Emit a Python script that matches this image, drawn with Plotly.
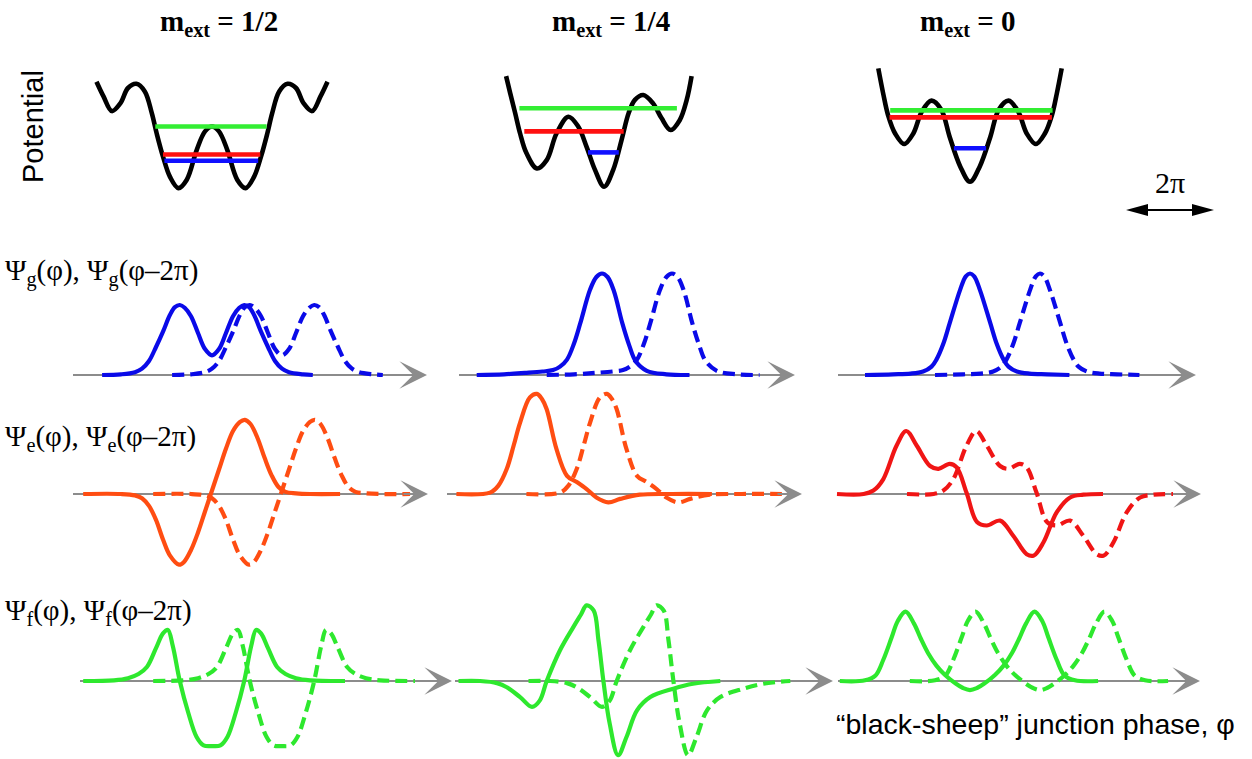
import plotly.graph_objects as go

# ---------------- data ----------------
# phase values are in units of 2*pi (phi / 2pi); amplitudes/potential in arbitrary units
COL_TITLES = ["<b>m<sub>ext</sub> = 1/2</b>", "<b>m<sub>ext</sub> = 1/4</b>", "<b>m<sub>ext</sub> = 0</b>"]
ROW_LABELS = ["Ψ<sub>g</sub>(φ), Ψ<sub>g</sub>(φ–2π)",
              "Ψ<sub>e</sub>(φ), Ψ<sub>e</sub>(φ–2π)",
              "Ψ<sub>f</sub>(φ), Ψ<sub>f</sub>(φ–2π)"]
POTENTIAL_LABEL = "Potential"
XAXIS_LABEL = "“black-sheep” junction phase, φ"
PERIOD_LABEL = "2π"
PERIOD = 1.0  # 2π in units of 2π

# potential curves
P1_PHI = [-1.65, -1.55, -1.43, -1.31, -1.2, -1.08, -0.96, -0.86, -0.79, -0.7, -0.6, -0.48, -0.36, -0.22, -0.1, 0,
          0.1, 0.22, 0.36, 0.48, 0.6, 0.7, 0.79, 0.86, 0.96, 1.08, 1.2, 1.31, 1.43, 1.55, 1.65]
P1_V = [1.69, 1.48, 1.27, 1.38, 1.6, 1.66, 1.55, 1.24, 0.95, 0.62, 0.33, 0.17, 0.29, 0.71, 0.98, 1.05,
        0.98, 0.71, 0.29, 0.17, 0.33, 0.62, 0.95, 1.24, 1.55, 1.66, 1.6, 1.38, 1.27, 1.48, 1.69]
P2_PHI = [-1.37, -1.31, -1.24, -1.17, -1.08, -0.93, -0.79, -0.65, -0.48, -0.34, -0.22, -0.1, 0.03, 0.16, 0.28,
          0.38, 0.47, 0.59, 0.73, 0.85, 0.98, 1.11, 1.21, 1.28]
P2_V = [1.77, 1.52, 1.24, 0.95, 0.67, 0.45, 0.57, 0.95, 1.19, 1.05, 0.76, 0.43, 0.19, 0.43, 0.86,
        1.24, 1.43, 1.5, 1.38, 1.17, 1.0, 1.14, 1.43, 1.77]
P3_PHI = [-1.31, -1.24, -1.17, -1.07, -0.94, -0.81, -0.69, -0.55, -0.41, -0.29, -0.14, 0,
          0.14, 0.29, 0.41, 0.55, 0.69, 0.81, 0.94, 1.07, 1.17, 1.24, 1.31]
P3_V = [1.88, 1.52, 1.21, 0.95, 0.8, 0.95, 1.26, 1.42, 1.29, 0.9, 0.48, 0.26,
        0.48, 0.9, 1.29, 1.42, 1.26, 0.95, 0.8, 0.95, 1.21, 1.52, 1.88]

# energy levels: (energy, left phi, right phi) for g, e, f
LEVELS_1 = {"g": (0.56, -0.68, 0.66), "e": (0.65, -0.70, 0.69), "f": (1.05, -0.81, 0.78)}
LEVELS_2 = {"g": (0.68, -0.20, 0.24), "e": (0.98, -1.11, 0.31), "f": (1.31, -1.18, 1.07)}
LEVELS_3 = {"g": (0.74, -0.23, 0.23), "e": (1.18, -1.15, 1.17), "f": (1.28, -1.14, 1.18)}

# wavefunctions, m_ext = 1/2
G1_PHI = [-1.57, -1.3, -1.1, -1.0, -0.9, -0.8, -0.7, -0.6, -0.53, -0.46, -0.39, -0.3, -0.2, -0.1, 0,
          0.1, 0.2, 0.3, 0.39, 0.46, 0.53, 0.6, 0.7, 0.8, 0.9, 1.0, 1.1, 1.3, 1.44]
G1_AMP = [0, 0.01, 0.04, 0.09, 0.2, 0.4, 0.62, 0.86, 0.97, 1.0, 0.96, 0.84, 0.6, 0.37, 0.28,
          0.37, 0.6, 0.84, 0.96, 1.0, 0.97, 0.86, 0.62, 0.4, 0.2, 0.09, 0.04, 0.01, 0]
E1_PHI = [-1.84, -1.3, -1.1, -1.0, -0.9, -0.8, -0.7, -0.6, -0.47, -0.4, -0.3, -0.2, -0.1, 0,
          0.1, 0.2, 0.3, 0.4, 0.47, 0.55, 0.65, 0.75, 0.85, 0.95, 1.05, 1.2, 1.4, 1.83]
E1_AMP = [0, 0, -0.02, -0.06, -0.17, -0.37, -0.65, -0.88, -1.01, -0.97, -0.8, -0.55, -0.25, 0.05,
          0.35, 0.65, 0.9, 1.03, 1.06, 1.0, 0.8, 0.52, 0.27, 0.1, 0.03, 0.01, 0, 0]
F1_PHI = [-1.84, -1.4, -1.2, -1.05, -0.93, -0.8, -0.7, -0.63, -0.56, -0.46, -0.34, -0.22, -0.12, 0,
          0.12, 0.22, 0.34, 0.46, 0.56, 0.63, 0.7, 0.8, 0.93, 1.05, 1.2, 1.4, 1.9]
F1_AMP = [0, 0.01, 0.04, 0.1, 0.2, 0.47, 0.68, 0.73, 0.5, 0, -0.45, -0.8, -0.92, -0.93,
          -0.92, -0.8, -0.45, 0, 0.5, 0.73, 0.68, 0.47, 0.2, 0.1, 0.04, 0.01, 0]

# wavefunctions, m_ext = 1/4
G2_PHI = [-1.79, -1.4, -1.1, -0.85, -0.7, -0.6, -0.5, -0.4, -0.31, -0.17, -0.08, 0, 0.08, 0.17, 0.29,
          0.39, 0.48, 0.64, 0.92, 1.25]
G2_AMP = [0, 0.01, 0.03, 0.05, 0.07, 0.12, 0.22, 0.45, 0.74, 1.22, 1.4, 1.45, 1.4, 1.2, 0.74,
          0.42, 0.2, 0.06, 0.01, 0]
E2_PHI = [-2.08, -1.6, -1.48, -1.36, -1.26, -1.17, -1.03, -0.93, -0.86, -0.79, -0.65, -0.5, -0.36, -0.22,
          -0.08, 0.09, 0.26, 0.54, 1.0, 1.57]
E2_AMP = [0, 0.02, 0.12, 0.36, 0.7, 1.02, 1.38, 1.43, 1.36, 1.21, 0.64, 0.26, 0.17, 0.07,
          -0.05, -0.12, -0.07, -0.01, 0, 0]
F2_PHI = [-2.05, -1.74, -1.5, -1.36, -1.17, -1.0, -0.89, -0.79, -0.6, -0.41, -0.3, -0.22, -0.12, -0.05,
          0.02, 0.11, 0.23, 0.35, 0.5, 0.69, 1.02, 1.3, 1.69]
F2_AMP = [0, 0, -0.03, -0.09, -0.23, -0.37, -0.28, 0, 0.44, 0.77, 0.95, 1.08, 1.01, 0.58,
          0, -0.61, -1.06, -0.8, -0.42, -0.23, -0.11, -0.04, 0]

# wavefunctions, m_ext = 0
G3_PHI = [-1.5, -1.1, -0.85, -0.67, -0.55, -0.48, -0.38, -0.29, -0.14, -0.06, 0,
          0.06, 0.14, 0.29, 0.38, 0.48, 0.55, 0.67, 0.85, 1.1, 1.42]
G3_AMP = [0, 0.01, 0.02, 0.05, 0.12, 0.22, 0.45, 0.74, 1.22, 1.41, 1.45,
          1.41, 1.22, 0.74, 0.45, 0.22, 0.12, 0.05, 0.02, 0.01, 0]
E3_PHI = [-1.9, -1.52, -1.38, -1.24, -1.05, -0.91, -0.76, -0.57, -0.45, -0.29, -0.19, -0.05,
          0.1, 0.24, 0.43, 0.62, 0.81, 0.91, 1.05, 1.24, 1.43, 1.62, 1.9]
E3_AMP = [0, 0, 0.05, 0.21, 0.69, 0.9, 0.69, 0.4, 0.36, 0.43, 0.38, 0.02,
          -0.4, -0.45, -0.38, -0.6, -0.86, -0.88, -0.69, -0.26, -0.05, -0.01, 0]
F3_PHI = [-1.86, -1.5, -1.35, -1.24, -1.12, -1.03, -0.92, -0.8, -0.7, -0.6, -0.48, -0.36, -0.2, -0.1, 0,
          0.1, 0.2, 0.36, 0.48, 0.6, 0.7, 0.8, 0.92, 1.03, 1.12, 1.24, 1.35, 1.5, 1.83]
F3_AMP = [0, 0.01, 0.08, 0.3, 0.62, 0.86, 0.99, 0.82, 0.6, 0.4, 0.22, 0.09, -0.04, -0.1, -0.13,
          -0.1, -0.04, 0.09, 0.22, 0.4, 0.6, 0.82, 0.99, 0.86, 0.62, 0.3, 0.08, 0.01, 0]

POTENTIALS = [(P1_PHI, P1_V, LEVELS_1), (P2_PHI, P2_V, LEVELS_2), (P3_PHI, P3_V, LEVELS_3)]
WAVES = [  # rows g, e, f ; columns 1/2, 1/4, 0
    [(G1_PHI, G1_AMP), (G2_PHI, G2_AMP), (G3_PHI, G3_AMP)],
    [(E1_PHI, E1_AMP), (E2_PHI, E2_AMP), (E3_PHI, E3_AMP)],
    [(F1_PHI, F1_AMP), (F2_PHI, F2_AMP), (F3_PHI, F3_AMP)],
]

# ---------------- styling / layout ----------------
W, H = 1252, 759
PX = 70.0                      # pixels per unit (2π) on every panel, both directions
COL_X0 = [212, 602, 970]       # pixel position of φ = 0 in each column
COL_SPAN = [(0, 462), (438, 850), (822, 1252)]
ROW_SPAN = [(40, 220), (245, 398), (380, 588), (588, 759)]
ROW_Y0 = [200, 375, 494, 681]  # pixel position of zero level in each row
AXIS_PX = [  # (start, tip) of the grey φ-axis arrows, per wave row / column
    [(73, 427), (459, 795), (838, 1196)],
    [(73, 428), (447, 802), (838, 1201)],
    [(80, 452), (455, 833), (838, 1200)],
]
WAVE_COLORS = [["#0a0ae8"] * 3, ["#ff4d12", "#ff4d12", "#f01515"], ["#2ee82e"] * 3]
LEVEL_COLORS = {"g": "#1010ff", "e": "#ff1010", "f": "#33ee33"}
GREY = "#8c8c8c"
SERIF = "Liberation Serif"
SANS = "Liberation Sans"
POT_WIDTH = 4.6
WAVE_WIDTH = 4.2

fig = go.Figure()
layout_axes = {}
annotations = []
shapes = []


def axes_for(row, col):
    idx = row * 3 + col + 1
    x0 = COL_X0[col]
    xs = COL_SPAN[col]
    ys = ROW_SPAN[row]
    y0 = ROW_Y0[row]
    xname = "xaxis" if idx == 1 else f"xaxis{idx}"
    yname = "yaxis" if idx == 1 else f"yaxis{idx}"
    xid = "x" if idx == 1 else f"x{idx}"
    yid = "y" if idx == 1 else f"y{idx}"
    layout_axes[xname] = dict(domain=[xs[0] / W, xs[1] / W],
                              range=[(xs[0] - x0) / PX, (xs[1] - x0) / PX],
                              visible=False, fixedrange=True, anchor=yid)
    layout_axes[yname] = dict(domain=[1 - ys[1] / H, 1 - ys[0] / H],
                              range=[(y0 - ys[1]) / PX, (y0 - ys[0]) / PX],
                              visible=False, fixedrange=True, anchor=xid)
    return xid, yid


# potential row
for col, (phi, v, levels) in enumerate(POTENTIALS):
    xid, yid = axes_for(0, col)
    fig.add_trace(go.Scatter(x=phi, y=v, mode="lines", xaxis=xid, yaxis=yid,
                             line=dict(color="black", width=POT_WIDTH, shape="spline", smoothing=1.0),
                             hoverinfo="skip", showlegend=False))
    for key in ["f", "e", "g"]:
        e, lo, hi = levels[key]
        fig.add_trace(go.Scatter(x=[lo, hi], y=[e, e], mode="lines", xaxis=xid, yaxis=yid,
                                 line=dict(color=LEVEL_COLORS[key], width=POT_WIDTH),
                                 hoverinfo="skip", showlegend=False))

# wavefunction rows
for r in range(3):
    for col in range(3):
        xid, yid = axes_for(r + 1, col)
        x0 = COL_X0[col]
        start, tip = AXIS_PX[r][col]
        tip_u = (tip - x0) / PX
        start_u = (start - x0) / PX
        fig.add_trace(go.Scatter(x=[start_u, tip_u - 12 / PX], y=[0, 0], mode="lines",
                                 xaxis=xid, yaxis=yid, line=dict(color=GREY, width=2),
                                 hoverinfo="skip", showlegend=False))
        annotations.append(dict(x=tip_u, y=0, ax=tip_u - 26 / PX, ay=0, xref=xid, yref=yid,
                                axref=xid, ayref=yid, text="", showarrow=True, arrowhead=3,
                                arrowsize=2.3, arrowwidth=2, arrowcolor=GREY, standoff=0))
        phi, amp = WAVES[r][col]
        color = WAVE_COLORS[r][col]
        fig.add_trace(go.Scatter(x=[p + PERIOD for p in phi], y=amp, mode="lines",
                                 xaxis=xid, yaxis=yid,
                                 line=dict(color=color, width=WAVE_WIDTH, dash="12px,6px",
                                           shape="spline", smoothing=1.0),
                                 hoverinfo="skip", showlegend=False))
        fig.add_trace(go.Scatter(x=phi, y=amp, mode="lines", xaxis=xid, yaxis=yid,
                                 line=dict(color=color, width=WAVE_WIDTH, shape="spline", smoothing=1.0),
                                 hoverinfo="skip", showlegend=False))

# texts
TITLE_X = [219, 611, 968]
for t, xp in zip(COL_TITLES, TITLE_X):
    annotations.append(dict(text=t, x=xp / W, y=1 - 23 / H, xref="paper", yref="paper",
                            showarrow=False, xanchor="center", yanchor="middle",
                            font=dict(family=SERIF, size=29, color="black")))
annotations.append(dict(text=POTENTIAL_LABEL, x=33 / W, y=1 - 127 / H, xref="paper", yref="paper",
                        showarrow=False, textangle=-90, xanchor="center", yanchor="middle",
                        font=dict(family=SANS, size=29, color="black")))
annotations.append(dict(text=PERIOD_LABEL, x=1170 / W, y=1 - 182 / H, xref="paper", yref="paper",
                        showarrow=False, xanchor="center", yanchor="middle",
                        font=dict(family=SERIF, size=30, color="black")))


# the 2π double-headed arrow, as a line and two filled heads (pixel positions -> paper)
def px(xp, yp):
    return f"{xp / W:.5f},{1 - yp / H:.5f}"


ARROW_Y, ARROW_L, ARROW_R, HEAD_L, HEAD_H = 210, 1126, 1214, 22, 6
shapes.append(dict(type="line", xref="paper", yref="paper",
                   x0=(ARROW_L + 10) / W, x1=(ARROW_R - 10) / W, y0=1 - ARROW_Y / H, y1=1 - ARROW_Y / H,
                   line=dict(color="black", width=2)))
shapes.append(dict(type="path", xref="paper", yref="paper", fillcolor="black", line=dict(width=0),
                   path=f"M{px(ARROW_L, ARROW_Y)} L{px(ARROW_L + HEAD_L, ARROW_Y - HEAD_H)} "
                        f"L{px(ARROW_L + HEAD_L, ARROW_Y + HEAD_H)} Z"))
shapes.append(dict(type="path", xref="paper", yref="paper", fillcolor="black", line=dict(width=0),
                   path=f"M{px(ARROW_R, ARROW_Y)} L{px(ARROW_R - HEAD_L, ARROW_Y - HEAD_H)} "
                        f"L{px(ARROW_R - HEAD_L, ARROW_Y + HEAD_H)} Z"))

ROW_LABEL_Y = [273, 438, 612]
for t, yp in zip(ROW_LABELS, ROW_LABEL_Y):
    annotations.append(dict(text=t, x=3 / W, y=1 - yp / H, xref="paper", yref="paper",
                            showarrow=False, xanchor="left", yanchor="middle",
                            font=dict(family=SERIF, size=29, color="black")))
annotations.append(dict(text=XAXIS_LABEL, x=834 / W, y=1 - 724 / H, xref="paper", yref="paper",
                        showarrow=False, xanchor="left", yanchor="middle",
                        font=dict(family=SANS, size=28.5, color="black")))

fig.update_layout(width=W, height=H, margin=dict(l=0, r=0, t=0, b=0),
                  paper_bgcolor="white", plot_bgcolor="rgba(0,0,0,0)",
                  showlegend=False, annotations=annotations, shapes=shapes, **layout_axes)

fig.write_html("out.html", config={"displayModeBar": False},
               post_script="document.body.style.margin='0px';document.body.style.overflow='hidden';")
